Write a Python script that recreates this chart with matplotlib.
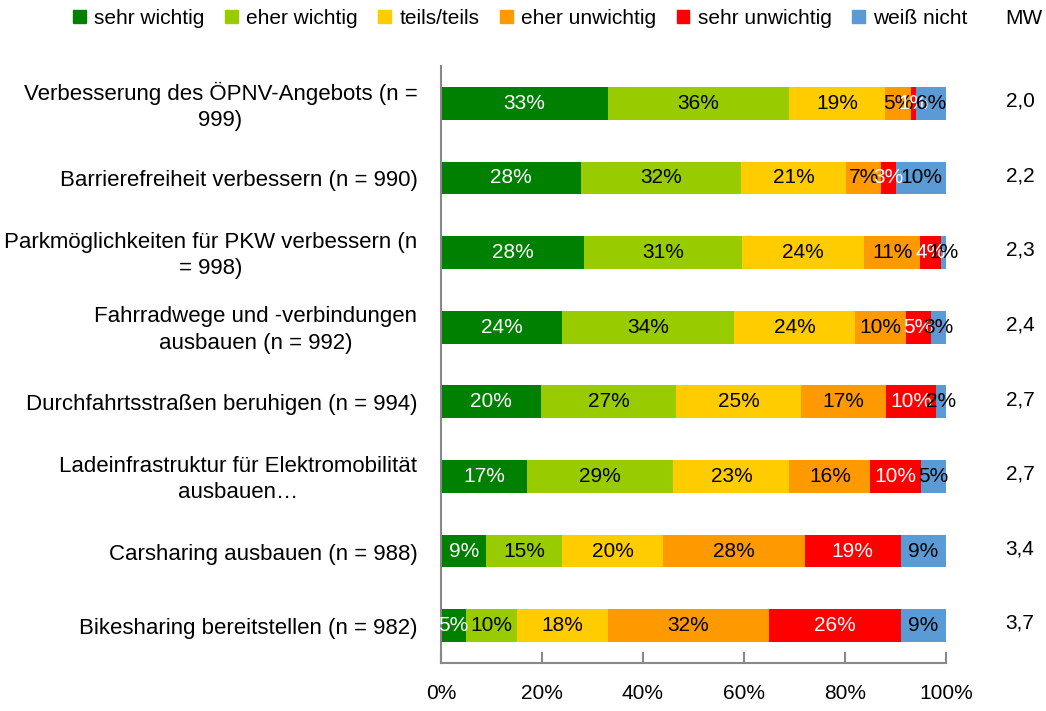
import numpy as np
import matplotlib.pyplot as plt
import matplotlib.transforms as mtransforms
from matplotlib.patches import Patch

plt.rcParams['font.family'] = ['Liberation Sans', 'DejaVu Sans']

categories = [
    "Verbesserung des ÖPNV-Angebots (n =\n999)",
    "Barrierefreiheit verbessern (n = 990)",
    "Parkmöglichkeiten für PKW verbessern (n\n= 998)",
    "Fahrradwege und -verbindungen\nausbauen (n = 992)",
    "Durchfahrtsstraßen beruhigen (n = 994)",
    "Ladeinfrastruktur für Elektromobilität\nausbauen…",
    "Carsharing ausbauen (n = 988)",
    "Bikesharing bereitstellen (n = 982)",
]
series = ["sehr wichtig", "eher wichtig", "teils/teils", "eher unwichtig",
          "sehr unwichtig", "weiß nicht"]
sehr_wichtig = [33, 28, 28, 24, 20, 17, 9, 5]
eher_wichtig = [36, 32, 31, 34, 27, 29, 15, 10]
teils_teils = [19, 21, 24, 24, 25, 23, 20, 18]
eher_unwichtig = [5, 7, 11, 10, 17, 16, 28, 32]
sehr_unwichtig = [1, 3, 4, 5, 10, 10, 19, 26]
weiss_nicht = [6, 10, 1, 3, 2, 5, 9, 9]
mw = ["2,0", "2,2", "2,3", "2,4", "2,7", "2,7", "3,4", "3,7"]

colors = ["#008000", "#99CC00", "#FFCC00", "#FF9900", "#FF0000", "#5B9BD5"]
txt_colors = ["white", "black", "black", "black", "white", "black"]

vals = np.array([sehr_wichtig, eher_wichtig, teils_teils, eher_unwichtig,
                 sehr_unwichtig, weiss_nicht], dtype=float)
share = vals / vals.sum(axis=0) * 100   # 100% stacked like the original

fig = plt.figure(figsize=(10.46, 7.11), dpi=100)
ax = fig.add_axes([441/1046, 1 - 663/711, 505/1046, 597/711])

y = np.arange(len(categories))
left = np.zeros(len(categories))
fs = 15
for i in range(len(series)):
    ax.barh(y, share[i], left=left, height=0.44, color=colors[i], label=series[i])
    for j in range(len(categories)):
        ax.text(left[j] + share[i][j] / 2, y[j], f"{int(vals[i][j])}%",
                ha='center', va='center', color=txt_colors[i], fontsize=fs)
    left += share[i]

ax.set_xlim(0, 100)
ax.set_ylim(len(categories) - 0.5, -0.5)
ax.set_yticks(y)
ax.set_yticklabels([])
ax.tick_params(axis='y', length=0)
# category labels drawn as text so the line spacing can be set
lab_tr = ax.get_yaxis_transform() + mtransforms.ScaledTranslation(-17/72, -0.03, fig.dpi_scale_trans)
for j, c in enumerate(categories):
    ax.text(0, y[j], c, transform=lab_tr, fontsize=16, ha='right', va='center',
            multialignment='center', linespacing=1.35)

ax.set_xticks(np.arange(0, 101, 20))
ax.set_xticklabels([f"{t}%" for t in range(0, 101, 20)], fontsize=fs)
ax.tick_params(axis='x', direction='in', length=8, color='#888888', width=1.5, pad=15)
for s in ['top', 'right']:
    ax.spines[s].set_visible(False)
for s in ['left', 'bottom']:
    ax.spines[s].set_color('#888888')
    ax.spines[s].set_linewidth(1.5)

# MW column
mw_tr = mtransforms.blended_transform_factory(fig.transFigure, ax.transData)
for j in range(len(categories)):
    ax.text(1020/1046, y[j] - 0.03, mw[j], transform=mw_tr,
            fontsize=fs, ha='center', va='center')
fig.text(1024/1046, 1 - 18/711, "MW", fontsize=fs, ha='center', va='center')

handles = [Patch(color=c) for c in colors]
fig.legend(handles, series, loc='center left', bbox_to_anchor=(73/1046, 1 - 18/711),
           ncol=6, frameon=False, fontsize=fs, handlelength=0.6, handleheight=0.6,
           handletextpad=0.4, columnspacing=1.0, borderpad=0, borderaxespad=0)

fig.savefig("out.png", dpi=100)
